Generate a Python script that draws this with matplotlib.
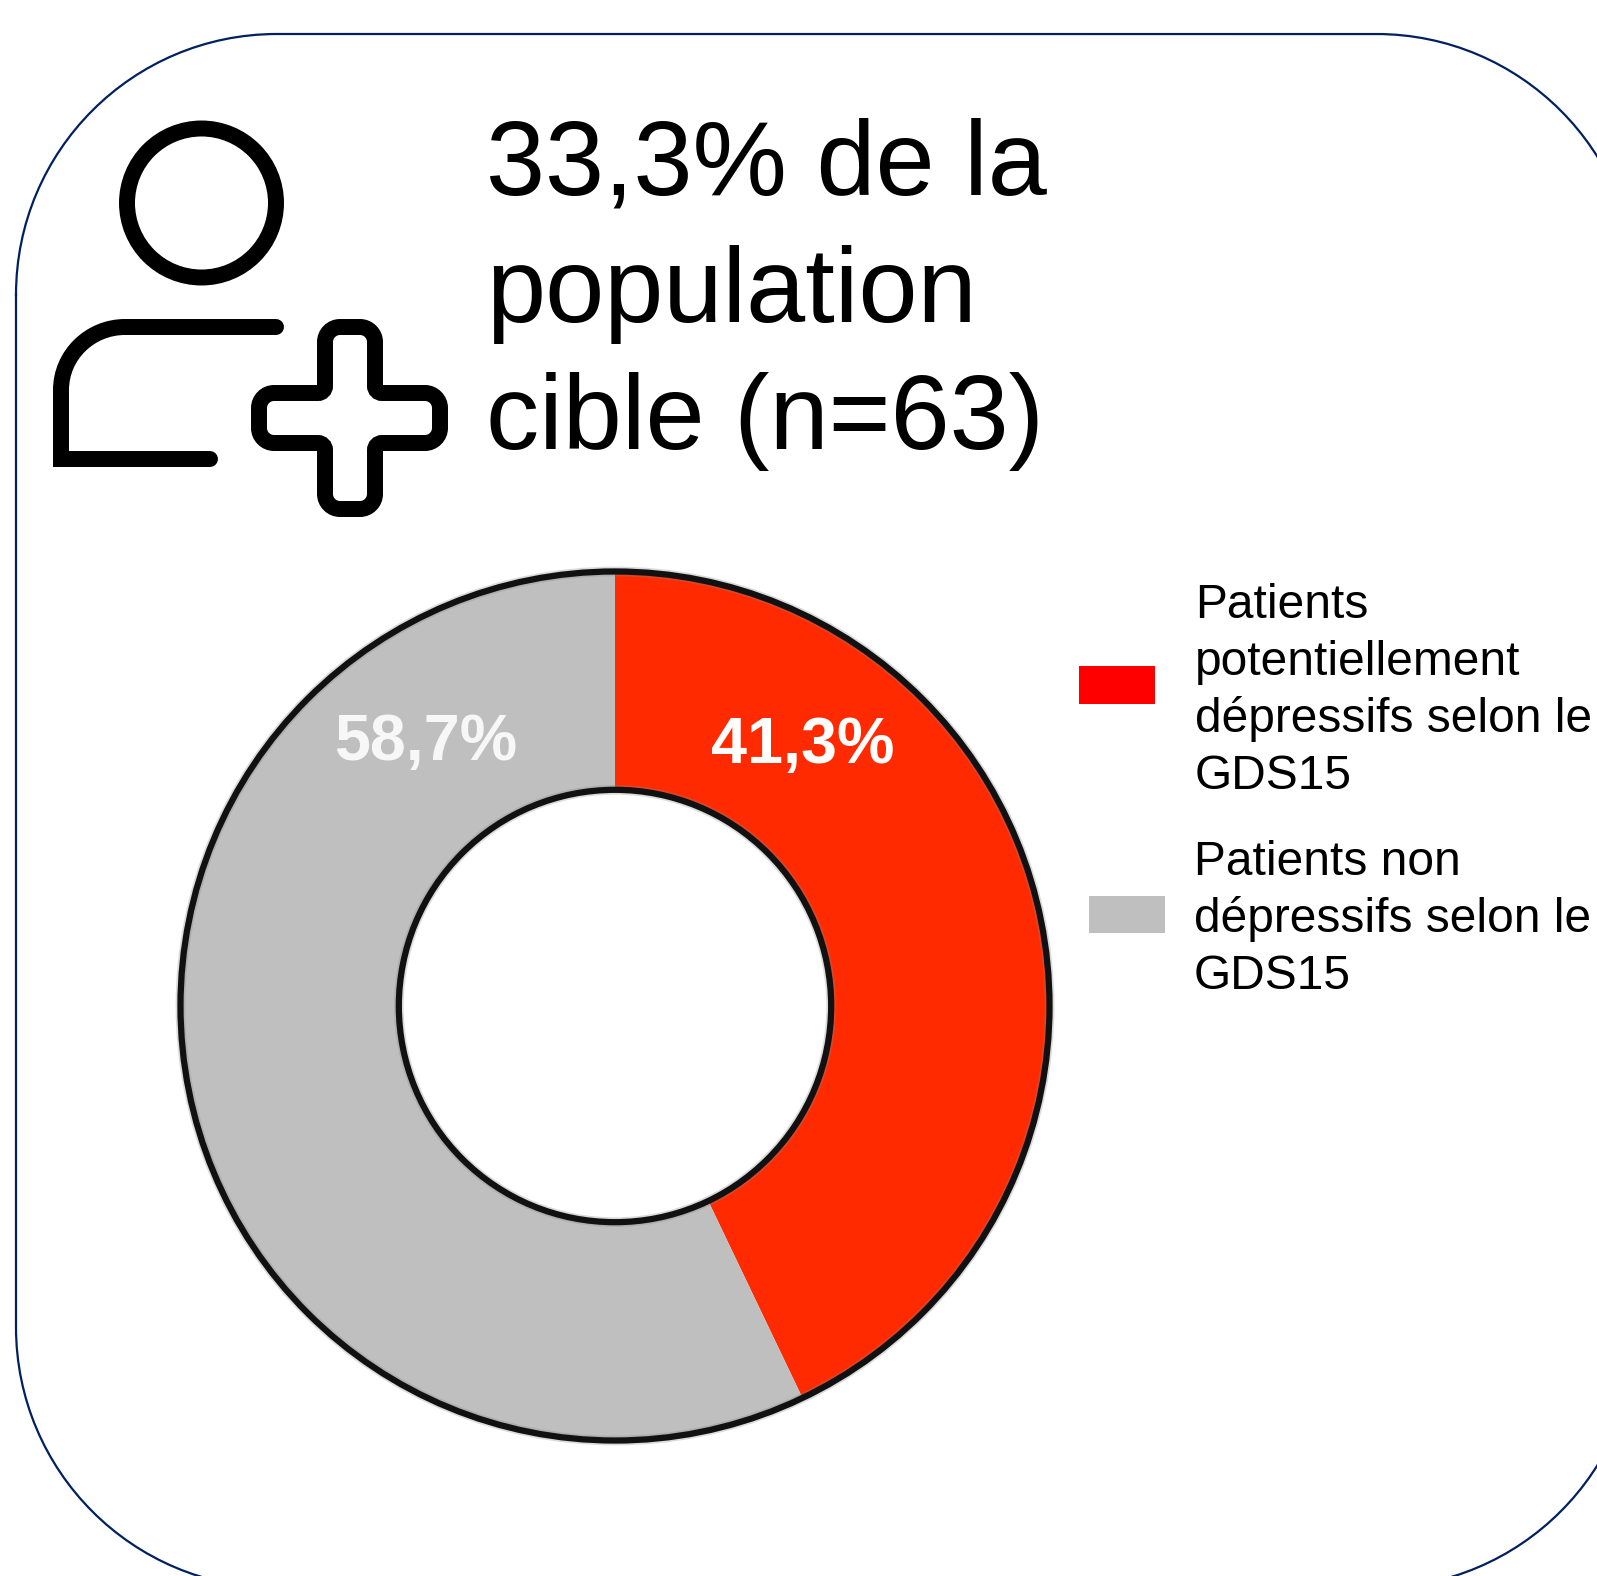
import numpy as np
import matplotlib
matplotlib.use('Agg')
from matplotlib import pyplot as plt
from matplotlib.patches import Circle, Rectangle, PathPatch
from matplotlib.path import Path

W, H = 1597, 1576

title_lines = ['33,3% de la', 'population', 'cible (n=63)']
label_lines_1 = ['Patients', 'potentiellement', 'dépressifs selon le', 'GDS15']
label_lines_2 = ['Patients non', 'dépressifs selon le', 'GDS15']
value_labels = ['41,3%', '58,7%']
# the drawn slice is a bit wider than its printed 41,3%
slice_shares = [42.9, 57.1]
colors = ['#ff2a00', '#bfbfbf']
legend_colors = ['#ff0000', '#bfbfbf']

plt.rcParams['font.family'] = ['Liberation Sans', 'DejaVu Sans']


def round_poly(pts, radii):
    """Polygon with rounded corners, radii given per vertex."""
    k = 0.5523
    verts, codes = [], []
    n = len(pts)
    for i in range(n):
        p = np.array(pts[i], float)
        a = np.array(pts[i-1], float)
        b = np.array(pts[(i+1) % n], float)
        r = radii[i]
        u = (a-p)/np.linalg.norm(a-p)
        v = (b-p)/np.linalg.norm(b-p)
        start = p+u*r
        end = p+v*r
        verts.append(start)
        codes.append(Path.MOVETO if i == 0 else Path.LINETO)
        verts += [start-u*r*k, end-v*r*k, end]
        codes += [Path.CURVE4]*3
    verts.append(verts[0])
    codes.append(Path.CLOSEPOLY)
    return Path(verts, codes)


fig = plt.figure(figsize=(W/100, H/100), dpi=100)
ax = fig.add_axes([0, 0, 1, 1])
ax.set_xlim(0, W)
ax.set_ylim(H, 0)
ax.axis('off')

# frame, runs off the right and bottom edges
# agg mangles curves that leave the canvas, so flatten it to a polyline first
frame = round_poly([(16, 34), (1637, 34), (1637, 1588), (16, 1588)], [261]*4)
frame_xy = frame.to_polygons(closed_only=False)[0]
ax.plot(frame_xy[:, 0], frame_xy[:, 1], color='#002060', lw=1.6)

# person icon
ax.add_patch(Circle((201.5, 203), 74.5, fc='none', ec='black', lw=11.5))
body = Path([(276, 327), (125, 327), (90, 327), (61, 355), (61, 390), (61, 459), (210, 459)],
            [Path.MOVETO, Path.LINETO, Path.CURVE4, Path.CURVE4, Path.CURVE4, Path.LINETO, Path.LINETO])
ax.add_patch(PathPatch(body, fc='none', ec='black', lw=11.5, capstyle='round', joinstyle='miter'))

# plus icon
plus = [(325, 327), (375, 327), (375, 393), (440, 393), (440, 443), (375, 443), (375, 509),
        (325, 509), (325, 443), (259, 443), (259, 393), (325, 393)]
plus_r = [15, 15, 7, 15, 15, 7, 15, 15, 7, 15, 15, 7]
ax.add_patch(PathPatch(round_poly(plus, plus_r), fc='none', ec='black', lw=11.5))

for line, y in zip(title_lines, [194, 321.5, 448.5]):
    ax.text(486, y, line, fontsize=76.5, va='baseline', ha='left')

# donut, clockwise from the top
pie_ax = fig.add_axes([(615-441)/W, 1-(1006+441)/H, 882/W, 882/H])
pie_ax.pie(slice_shares, colors=colors, startangle=90, counterclock=False, radius=1.005,
           wedgeprops=dict(width=0.505, edgecolor='none'))
for rad in (1.005, 0.5):
    pie_ax.add_patch(Circle((0, 0), rad, fc='none', ec='#888888', lw=7, alpha=0.3))
    pie_ax.add_patch(Circle((0, 0), rad, fc='none', ec='#111111', lw=4.5))
pie_ax.set_xlim(-1.02, 1.02)
pie_ax.set_ylim(-1.02, 1.02)

ax.set_zorder(2)
ax.patch.set_alpha(0)
ax.text(802.5, 746, value_labels[0], color='white', fontsize=46.5, fontweight='bold', ha='center', va='center')
ax.text(426, 743, value_labels[1], color='#f7f7f7', fontsize=46.5, fontweight='bold', ha='center', va='center')

# legend
ax.add_patch(Rectangle((1079, 666), 76, 38, fc=legend_colors[0], ec='none'))
ax.add_patch(Rectangle((1089, 896), 76, 37, fc=legend_colors[1], ec='none'))
for line, y in zip(label_lines_1, [617.5, 675, 732, 789]):
    ax.text(1195, y, line, fontsize=34.5, va='baseline', ha='left')
for line, y in zip(label_lines_2, [875, 932, 989]):
    ax.text(1194, y, line, fontsize=34.5, va='baseline', ha='left')

fig.savefig('out.png', dpi=100)
